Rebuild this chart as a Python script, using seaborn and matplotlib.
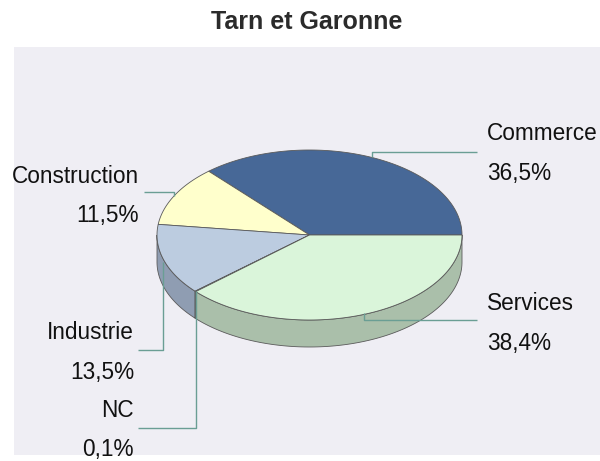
import numpy as np
import matplotlib
matplotlib.use("Agg")
import matplotlib.pyplot as plt
from matplotlib.patches import Polygon
import seaborn as sns

# ---- data ----
categories = ["Commerce", "Construction", "Industrie", "NC", "Services"]
shares     = [36.5, 11.5, 13.5, 0.1, 38.4]
top_colors  = ["#476897", "#FFFFCC", "#BCCCE0", "#6E7E96", "#DAF5DA"]
side_colors = ["#33496B", "#B8B890", "#8F9DB2", "#4E5A6C", "#AABFAA"]

# ---- layout (pixel coords of the 600x461 canvas) ----
CX, CY, RX, RY, DEPTH = 309.5, 235, 152.5, 85, 27
LEADER = "#6A9E94"
EDGE = "#5A5A5A"

# label anchor: (x, name baseline, pct baseline, ha)
label_pos = {
    "Commerce":     (487, 140, 180, "left"),
    "Services":     (487, 310, 350, "left"),
    "Construction": (139, 183, 222, "right"),
    "Industrie":    (134, 339, 379, "right"),
    "NC":           (134, 417, 456, "right"),
}
# leader polylines
leaders = {
    "Commerce":     [(372, 157), (372, 152), (477, 152)],
    "Services":     [(364, 313), (364, 320), (477, 320)],
    "Construction": [(174, 196), (174, 192), (144, 192)],
    "Industrie":    [(163, 262), (163, 350), (138, 350)],
    "NC":           [(195.5, 291), (195.5, 428), (138, 428)],
}

sns.set_theme(style="white")
plt.rcParams["font.family"] = ["Liberation Sans", "DejaVu Sans"]

fig = plt.figure(figsize=(6, 4.61), dpi=100)
fig.patch.set_facecolor("white")
ax = fig.add_axes([14 / 600, 1 - 455 / 461, 586 / 600, (455 - 47) / 461])
ax.set_facecolor("#EFEEF4")
ax.set_xlim(14, 600)
ax.set_ylim(455, 47)
ax.set_xticks([])
ax.set_yticks([])
for s in ax.spines.values():
    s.set_visible(False)


def arc(t0, t1, dy=0.0, n=120):
    t = np.radians(np.linspace(t0, t1, n))
    return np.column_stack([CX + RX * np.cos(t), CY - RY * np.sin(t) + dy])


# slice angles (counter-clockwise from 3 o'clock)
bounds = np.concatenate([[0], np.cumsum(shares)]) / sum(shares) * 360

# sides (front half only)
for i, cat in enumerate(categories):
    t0, t1 = max(bounds[i], 180), min(bounds[i + 1], 360)
    if t1 <= t0:
        continue
    top = arc(t0, t1)
    bot = arc(t1, t0, dy=DEPTH)
    ax.add_patch(Polygon(np.vstack([top, bot]), closed=True,
                         facecolor=side_colors[i], edgecolor=EDGE, lw=0.6))

# tops
for i, cat in enumerate(categories):
    pts = np.vstack([[CX, CY], arc(bounds[i], bounds[i + 1])])
    ax.add_patch(Polygon(pts, closed=True, facecolor=top_colors[i],
                         edgecolor=EDGE, lw=0.6))

# leaders and labels
for cat, share in zip(categories, shares):
    xs, ys = zip(*leaders[cat])
    ax.plot(xs, ys, color=LEADER, lw=1.0, solid_capstyle="butt")
    x, yn, yp, ha = label_pos[cat]
    pct = f"{share:.1f}%".replace(".", ",")
    ax.text(x, yn, cat, ha=ha, va="baseline", fontsize=16.3,
            color="#111111", clip_on=False)
    ax.text(x, yp, pct, ha=ha, va="baseline", fontsize=16.3,
            color="#111111", clip_on=False)

fig.text(307 / 600, 1 - 22 / 461, "Tarn et Garonne", ha="center", va="center",
         fontsize=18, fontweight="bold", color="#2B2B2B")

fig.savefig("out.png", dpi=100)
